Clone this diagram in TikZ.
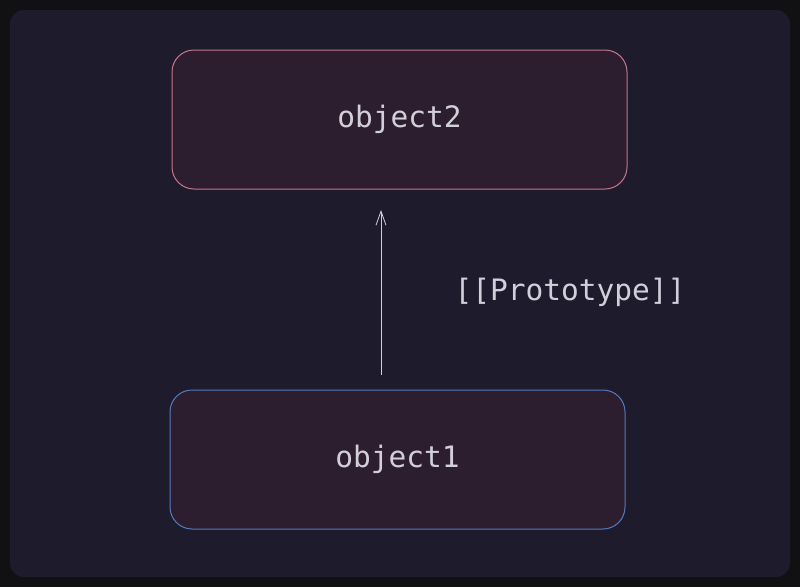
\documentclass[tikz,border=0pt]{standalone}
\usepackage{fontspec}
\setmonofont{DejaVu Sans Mono}
\usetikzlibrary{arrows.meta,positioning}
\definecolor{framebg}{RGB}{17,17,19}
\definecolor{panelbg}{RGB}{30,27,45}
\definecolor{boxfill}{RGB}{44,30,46}
\definecolor{pinkline}{RGB}{196,118,140}
\definecolor{blueline}{RGB}{84,122,190}
\definecolor{inkgray}{RGB}{210,206,218}
\tikzset{
  objbox/.style={draw,line width=1pt,rounded corners=22pt,fill=boxfill,
    minimum width=455pt,minimum height=139pt,text=inkgray,
    font=\ttfamily\fontsize{29.5}{32}\selectfont},
  protolink/.style={draw=inkgray,line width=0.8pt,-{Straight Barb[length=14pt,width=10pt]}}
}
\begin{document}
\begin{tikzpicture}[x=1pt,y=-1pt]
    % background
    \fill[framebg] (0,0) rectangle (800,587);
    \fill[panelbg,rounded corners=14pt] (10,10) rectangle (790,577);

    % objects
    \node[objbox,draw=pinkline] (obj2) at (399.5,119.5) {object2};
    \node[objbox,draw=blueline] (obj1) at (397.5,459.5) {object1};

    % prototype link
    \coordinate (tail) at (381,375);
    \coordinate (head) at (381,210);
    \draw[protolink] (tail) -- (head);
    \node[text=inkgray,font=\ttfamily\fontsize{29.5}{32}\selectfont] (proto) at (570,292) {[[Prototype]]};
\end{tikzpicture}
\end{document}
